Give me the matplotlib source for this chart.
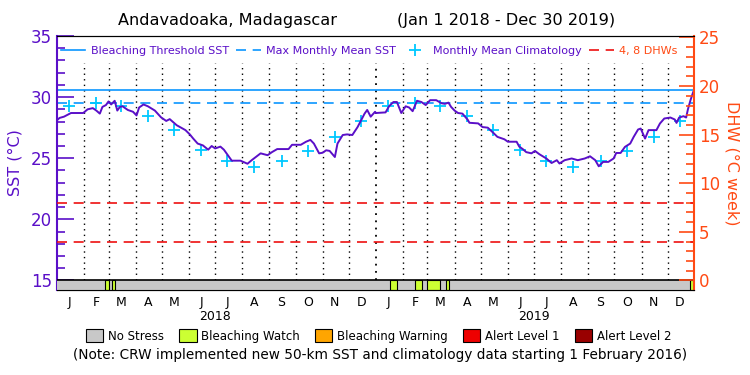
import matplotlib
matplotlib.use("Agg")
import matplotlib.pyplot as plt
from matplotlib.patches import Patch
from matplotlib.lines import Line2D
import pandas as pd

START = pd.Timestamp("2018-01-01")
END = pd.Timestamp("2019-12-31")

# daily SST trace (days since Jan 1 2018, deg C)
sst_day = [0, 3, 8, 16, 30, 35, 41, 45, 49, 52, 56, 59, 62, 66, 69, 72, 75, 81, 87, 91,
           94, 99, 104, 112, 119, 125, 129, 133, 137, 142, 147, 152, 156, 161, 167, 173,
           177, 181, 187, 191, 197, 200, 210, 218, 223, 233, 241, 246, 252, 265, 269, 279,
           285, 290, 294, 300, 304, 308, 312, 318, 321, 327, 332, 338, 344, 348, 352, 355,
           359, 364, 365, 376, 380, 385, 389, 394, 399, 403, 407, 412, 417, 422, 427, 434,
           440, 444, 448, 451, 455, 459, 464, 470, 472, 482, 487, 493, 499, 504, 512, 516,
           526, 529, 533, 537, 543, 547, 552, 560, 566, 572, 575, 581, 589, 596, 604, 610,
           616, 620, 625, 631, 637, 640, 645, 650, 656, 660, 665, 668, 673, 677, 686, 690,
           695, 702, 707, 709, 712, 717, 720, 722, 725, 727, 728]
sst_val = [28.11, 28.3, 28.4, 28.7, 28.7, 29.0, 29.1, 28.9, 28.65, 29.2, 29.35, 29.65, 29.4,
           29.7, 28.9, 29.2, 29.25, 28.95, 28.8, 28.5, 29.15, 29.4, 29.25, 28.9, 28.35, 28.05,
           28.2, 27.95, 27.7, 27.5, 27.3, 26.95, 26.6, 26.2, 26.05, 25.7, 26.0, 25.8, 25.95,
           25.7, 25.1, 24.8, 24.8, 24.55, 24.85, 25.4, 25.25, 25.5, 25.75, 25.75, 26.1, 26.1,
           26.35, 26.5, 26.2, 25.4, 25.45, 25.65, 25.6, 25.1, 26.2, 26.9, 26.95, 26.9, 27.55,
           28.1, 28.65, 28.95, 28.4, 28.8, 28.7, 28.75, 29.25, 29.6, 29.6, 28.7, 29.25, 29.15,
           28.85, 29.7, 29.6, 29.35, 29.75, 29.75, 29.5, 29.45, 29.55, 29.2, 28.9, 28.7, 28.65,
           28.15, 27.9, 27.85, 27.55, 27.5, 27.1, 26.75, 26.55, 26.35, 26.35, 25.95, 25.75,
           25.5, 25.4, 25.6, 25.33, 24.98, 24.61, 24.84, 24.57, 24.84, 24.98, 24.84, 24.98,
           25.16, 24.84, 24.34, 24.7, 24.7, 24.98, 25.43, 25.43, 25.93, 26.2, 26.75, 27.35,
           27.43, 26.61, 27.3, 27.3, 27.84, 28.25, 28.33, 28.17, 27.89, 28.33, 28.44, 28.33,
           28.99, 29.75, 30.2, 30.4]

# monthly mean climatology (Jan..Dec)
clim_sst = [29.28, 29.53, 29.26, 28.48, 27.34, 25.71, 24.78, 24.32, 24.80, 25.63, 26.76, 28.06]
MMM = 29.55
THRESHOLD = 30.55
DHW_LEVELS = [4, 8]

# bleaching watch periods in the stress bar (days since Jan 1 2018)
watch_start = [55, 63, 381, 410, 424, 445, 724]
watch_end = [59, 66, 389, 418, 438, 449, 730]

month_letters = ["J", "F", "M", "A", "M", "J", "J", "A", "S", "O", "N", "D"]
years = [2018, 2019]

PURPLE = "#5a0fc8"
ORANGE = "#ff4a14"
CYAN = "#00c8ff"
BLUE = "#0a96ff"
RED = "#ee1111"
GREY = "#c8c8c8"
WATCH = "#ccff33"

plt.rcParams["font.family"] = ["DejaVu Sans"]

fig = plt.figure(figsize=(7.5, 3.75), dpi=100)
ax = fig.add_axes([57 / 750, 1 - 290 / 375, 637 / 750, 254 / 375])

SST_LO, SST_HI = 14.22, 35.0
ax.set_ylim(SST_LO, SST_HI)
ax.set_xlim(START, END)

dates = START + pd.to_timedelta(sst_day, unit="D")

# month boundary dotted lines
bounds = pd.date_range("2018-02-01", "2019-12-01", freq="MS")
for b in bounds:
    lw = 1.3 if b.month == 1 else 1.0
    ax.vlines(b, 15, 32.8, colors="black", linestyles=(0, (1, 3)), lw=lw, zorder=1)

ax.axhline(THRESHOLD, color=BLUE, lw=1.2, zorder=2)
ax.axhline(MMM, color=BLUE, lw=1.2, ls=(0, (6, 4)), zorder=2)

mid = [pd.Timestamp(y, m, 15) for y in years for m in range(1, 13)]
ax.plot(mid, clim_sst * 2, ls="none", marker="+", ms=9, mew=1.3, color=CYAN, zorder=3)
ax.plot(dates, sst_val, color=PURPLE, lw=1.4, zorder=4)

# stress bar
bar_top = (15 - SST_LO) / (SST_HI - SST_LO)
ax.axvspan(START, END, ymin=0, ymax=bar_top, facecolor=GREY, edgecolor="none", zorder=5)
for s, e in zip(watch_start, watch_end):
    ax.axvspan(START + pd.Timedelta(days=s), START + pd.Timedelta(days=e), ymin=0,
               ymax=bar_top, facecolor=WATCH, edgecolor="black", lw=0.8, zorder=6)
ax.axhline(15, color="black", lw=1.2, zorder=7)

# axes styling
ax.set_yticks([15, 20, 25, 30, 35])
ax.set_yticks(range(16, 35), minor=True)
ax.tick_params(axis="y", which="both", direction="in", colors=PURPLE, labelsize=12)
ax.tick_params(axis="y", which="major", length=12, width=1.2)
ax.tick_params(axis="y", which="minor", length=6, width=1.2)
ax.set_ylabel("SST (°C)", color=PURPLE, fontsize=11.5, labelpad=6)
ax.spines["left"].set_color(PURPLE)
ax.spines["left"].set_linewidth(1.5)
ax.spines["right"].set_visible(False)

ax.set_xticks(mid)
ax.set_xticklabels(month_letters * 2, fontsize=9)
ax.tick_params(axis="x", length=0, pad=4)
for y in years:
    ax.text(pd.Timestamp(y, 7, 1), -0.08, str(y), transform=ax.get_xaxis_transform(),
            ha="center", va="top", fontsize=9)

ax2 = ax.twinx()
ax2.set_ylim(-0.98, 25.15)
for lvl in DHW_LEVELS:
    ax2.axhline(lvl, color=RED, lw=1.2, ls=(0, (6, 4)), zorder=2)
ax2.set_yticks([0, 5, 10, 15, 20, 25])
ax2.set_yticks(range(1, 25), minor=True)
ax2.tick_params(axis="y", which="both", direction="in", colors=ORANGE, labelsize=12)
ax2.tick_params(axis="y", which="major", length=11, width=1.2)
ax2.tick_params(axis="y", which="minor", length=6, width=1.2)
ax2.spines["right"].set_color(ORANGE)
ax2.spines["right"].set_linewidth(1.5)
ax2.spines["left"].set_visible(False)
ax2.set_ylabel("DHW (°C week)", color=ORANGE, fontsize=11.5, rotation=270, labelpad=14)

# top legend
handles = [Line2D([], [], color=BLUE, lw=1.2),
           Line2D([], [], color=BLUE, lw=1.2, ls=(0, (6, 4))),
           Line2D([], [], color=CYAN, ls="none", marker="+", ms=8, mew=1.3),
           Line2D([], [], color=RED, lw=1.2, ls=(0, (6, 4)))]
labels = ["Bleaching Threshold SST", "Max Monthly Mean SST", "Monthly Mean Climatology", "4, 8 DHWs"]
leg = ax2.legend(handles, labels, ncol=4, loc="upper center", bbox_to_anchor=(0.49, 1.0),
                 frameon=False, fontsize=8, handlelength=2.2, columnspacing=0.65,
                 handletextpad=0.5)
for t, c in zip(leg.get_texts(), [PURPLE, PURPLE, PURPLE, ORANGE]):
    t.set_color(c)

# bottom legend
stress_labels = ["No Stress", "Bleaching Watch", "Bleaching Warning", "Alert Level 1", "Alert Level 2"]
stress_colors = [GREY, WATCH, "#ffa500", "#ee0000", "#990000"]
patches = [Patch(facecolor=c, edgecolor="black", lw=0.8) for c in stress_colors]
fig.legend(patches, stress_labels, ncol=5, loc="center", bbox_to_anchor=(0.505, 1 - 336 / 375),
           frameon=False, fontsize=8.5, handlelength=1.45, handleheight=1.2, columnspacing=1.3,
           handletextpad=0.4)

fig.text(0.507, 1 - 355 / 375, "(Note: CRW implemented new 50-km SST and climatology data starting 1 February 2016)",
         ha="center", va="center", fontsize=9.8)
fig.text(0.303, 1 - 20 / 375, "Andavadoaka, Madagascar", ha="center", va="center", fontsize=11.6)
fig.text(0.675, 1 - 20 / 375, "(Jan 1 2018 - Dec 30 2019)", ha="center", va="center", fontsize=11.6)

fig.savefig("out.png", dpi=100)
